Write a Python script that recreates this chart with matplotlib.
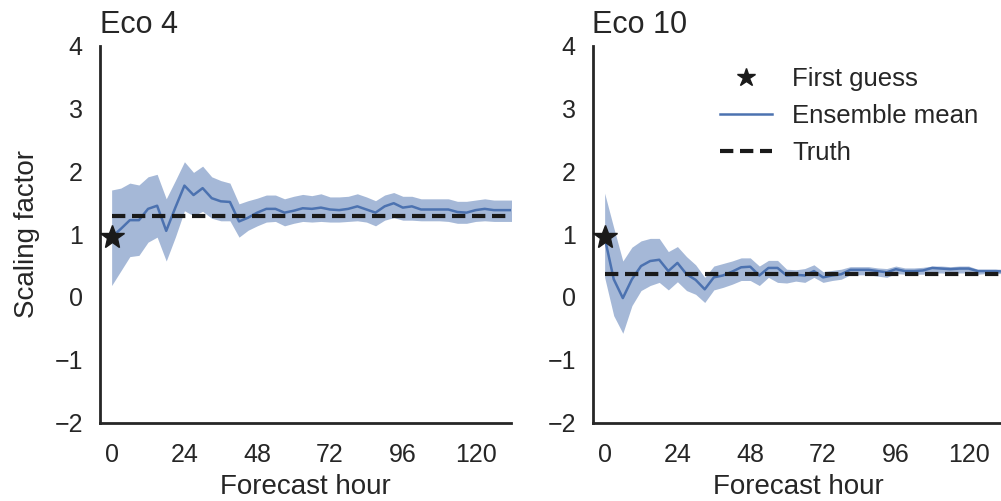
import numpy as np
import matplotlib
matplotlib.use("Agg")
import matplotlib.pyplot as plt

hours = list(range(0, 133, 3))

# Eco 4
eco4_mean = [0.95, 1.08, 1.22, 1.22, 1.40, 1.45, 1.05, 1.42, 1.77, 1.62, 1.73, 1.57,
             1.52, 1.51, 1.20, 1.26, 1.34, 1.40, 1.40, 1.34, 1.37, 1.41, 1.40, 1.42,
             1.39, 1.38, 1.40, 1.44, 1.39, 1.34, 1.44, 1.49, 1.42, 1.44, 1.39, 1.39,
             1.39, 1.39, 1.35, 1.34, 1.38, 1.40, 1.38, 1.38, 1.38]
eco4_upper = [1.70, 1.73, 1.81, 1.78, 1.91, 1.95, 1.56, 1.85, 2.15, 1.98, 2.08, 1.91,
              1.85, 1.81, 1.48, 1.53, 1.57, 1.62, 1.62, 1.56, 1.60, 1.63, 1.61, 1.64,
              1.59, 1.59, 1.60, 1.64, 1.59, 1.53, 1.62, 1.66, 1.60, 1.60, 1.56, 1.56,
              1.56, 1.56, 1.52, 1.52, 1.54, 1.56, 1.54, 1.54, 1.54]
eco4_lower = [0.18, 0.41, 0.64, 0.66, 0.87, 0.95, 0.57, 0.95, 1.37, 1.29, 1.36, 1.25,
              1.21, 1.21, 0.95, 1.06, 1.13, 1.19, 1.20, 1.13, 1.17, 1.20, 1.19, 1.20,
              1.19, 1.19, 1.20, 1.21, 1.19, 1.13, 1.22, 1.26, 1.22, 1.22, 1.21, 1.21,
              1.21, 1.20, 1.17, 1.17, 1.20, 1.21, 1.20, 1.20, 1.20]
eco4_truth = 1.28
eco4_first = 0.95

# Eco 10
eco10_mean = [0.95, 0.28, -0.02, 0.28, 0.49, 0.57, 0.59, 0.41, 0.54, 0.36, 0.27, 0.12,
              0.31, 0.34, 0.40, 0.47, 0.48, 0.34, 0.46, 0.46, 0.34, 0.35, 0.34, 0.41,
              0.31, 0.34, 0.36, 0.43, 0.43, 0.43, 0.41, 0.39, 0.44, 0.41, 0.41, 0.42,
              0.46, 0.45, 0.44, 0.45, 0.45, 0.41, 0.41, 0.41, 0.40]
eco10_upper = [1.65, 1.10, 0.57, 0.79, 0.89, 0.93, 0.93, 0.72, 0.80, 0.64, 0.51, 0.31,
               0.49, 0.53, 0.57, 0.62, 0.62, 0.49, 0.58, 0.58, 0.44, 0.43, 0.45, 0.51,
               0.40, 0.42, 0.44, 0.48, 0.48, 0.48, 0.46, 0.45, 0.49, 0.46, 0.46, 0.47,
               0.49, 0.49, 0.48, 0.49, 0.49, 0.44, 0.44, 0.44, 0.44]
eco10_lower = [0.31, -0.30, -0.58, -0.14, 0.10, 0.18, 0.23, 0.11, 0.24, 0.10, 0.04, -0.09,
               0.11, 0.15, 0.20, 0.26, 0.26, 0.18, 0.31, 0.23, 0.22, 0.25, 0.23, 0.31,
               0.23, 0.26, 0.28, 0.35, 0.35, 0.35, 0.33, 0.31, 0.37, 0.36, 0.36, 0.36,
               0.38, 0.38, 0.37, 0.38, 0.38, 0.36, 0.37, 0.37, 0.37]
eco10_truth = 0.36
eco10_first = 0.95

titles = ["Eco 4", "Eco 10"]
xticks = [0, 24, 48, 72, 96, 120]
yticks = [-2, -1, 0, 1, 2, 3, 4]

plt.rcParams['font.family'] = ['Liberation Sans', 'DejaVu Sans']
plt.rcParams['axes.unicode_minus'] = True

blue = '#4C72B0'
dark = '#262626'

fig = plt.figure(figsize=(10.01, 5.01), dpi=100)
ax1 = fig.add_axes([99.5 / 1001, 1 - 422.5 / 501, 411 / 1001, 377 / 501])
ax2 = fig.add_axes([592.5 / 1001, 1 - 422.5 / 501, 411 / 1001, 377 / 501])

panels = [
    (ax1, eco4_mean, eco4_lower, eco4_upper, eco4_truth, eco4_first),
    (ax2, eco10_mean, eco10_lower, eco10_upper, eco10_truth, eco10_first),
]

for i, (ax, mean, lo, hi, truth, first) in enumerate(panels):
    ax.fill_between(hours, lo, hi, color=blue, alpha=0.5, linewidth=0)
    ax.plot(hours, mean, color=blue, lw=1.8, label='Ensemble mean')
    ax.plot([hours[0], hours[-1]], [truth, truth], color='#1a1a1a', lw=3,
            ls=(0, (3.2, 1.6)), label='Truth')
    ax.plot([0], [first], marker='*', color='#1a1a1a', ms=18, ls='none',
            label='First guess', zorder=5)
    ax.set_xlim(-4, 131.5)
    ax.set_ylim(-2, 4)
    ax.set_xticks(xticks)
    ax.set_yticks(yticks)
    ax.set_yticklabels([str(t).replace('-', '\u2212') for t in yticks])
    ax.tick_params(axis='y', length=0, labelsize=18, colors=dark, pad=12)
    ax.tick_params(axis='x', length=0, labelsize=18, colors=dark, pad=15)
    for s in ['top', 'right']:
        ax.spines[s].set_visible(False)
    for s in ['left', 'bottom']:
        ax.spines[s].set_color(dark)
        ax.spines[s].set_linewidth(2)
    ax.set_xlabel('Forecast hour', fontsize=20, color=dark, labelpad=5)
    ax.set_title(titles[i], loc='left', fontsize=22, color=dark, pad=9)

ax1.set_ylabel('Scaling factor', fontsize=20, color=dark, labelpad=10)

h, l = ax2.get_legend_handles_labels()
order = [2, 0, 1]
ax2.legend([h[k] for k in order], [l[k] for k in order], loc='upper right',
           bbox_to_anchor=(0.983, 0.99), frameon=False, fontsize=18.5,
           markerscale=0.75, handlelength=2.0, labelspacing=0.5,
           borderaxespad=0.3, labelcolor=dark)

fig.savefig('out.png', dpi=100)
